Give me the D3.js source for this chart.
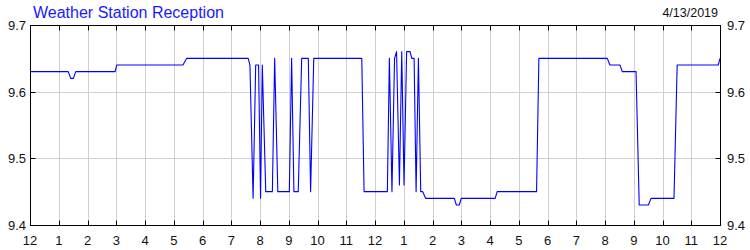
<!DOCTYPE html>
<html>
<head>
<meta charset="utf-8">
<script src="https://cdn.jsdelivr.net/npm/d3@7"></script>
<style>
  body { margin: 0; background: #fff; }
  svg { display: block; font-family: "Liberation Sans", Arial, sans-serif; }
</style>
</head>
<body>
<svg id="chart" width="750" height="250"></svg>
<script>
// chart data
const chartTitle = "Weather Station Reception";
const dateLabel = "4/13/2019";

// hours since midnight
const hours = [
  0, 1.33, 1.415, 1.51, 1.59, 2.96, 3.02, 5.32, 5.45, 7.59,
  7.65, 7.76, 7.85, 7.95, 8.02, 8.08, 8.20, 8.43, 8.51, 8.62,
  9.02, 9.10, 9.18, 9.33, 9.45, 9.68, 9.76, 9.87, 11.54, 11.62,
  12.43, 12.50, 12.59, 12.68, 12.75, 12.85, 12.93, 13.01, 13.10, 13.22,
  13.28, 13.36, 13.43, 13.51, 13.59, 13.66, 13.76, 14.76, 14.83, 14.93,
  15.00, 16.18, 16.25, 17.62, 17.70, 20.08, 20.17, 20.52, 20.60, 21.08,
  21.19, 21.51, 21.60, 22.40, 22.51, 23.94, 24
];
const reception = [
  9.63, 9.63, 9.62, 9.62, 9.63, 9.63, 9.64, 9.64, 9.65, 9.65,
  9.64, 9.44, 9.64, 9.64, 9.44, 9.64, 9.45, 9.45, 9.65, 9.45,
  9.45, 9.65, 9.45, 9.45, 9.65, 9.65, 9.45, 9.65, 9.65, 9.45,
  9.45, 9.65, 9.45, 9.65, 9.66, 9.46, 9.66, 9.46, 9.66, 9.66,
  9.65, 9.65, 9.45, 9.65, 9.45, 9.45, 9.44, 9.44, 9.43, 9.43,
  9.44, 9.44, 9.45, 9.45, 9.65, 9.65, 9.64, 9.64, 9.63, 9.63,
  9.43, 9.43, 9.44, 9.44, 9.64, 9.64, 9.65
];

const xTicks = d3.range(0, 25);
const xTickLabels = ["12", "1", "2", "3", "4", "5", "6", "7", "8", "9", "10", "11",
                     "12", "1", "2", "3", "4", "5", "6", "7", "8", "9", "10", "11", "12"];
const yTicks = [9.4, 9.5, 9.6, 9.7];
const yTickLabels = ["9.4", "9.5", "9.6", "9.7"];

const svg = d3.select("#chart");
const margin = { top: 25, right: 30, bottom: 25, left: 30 };
const width = 750, height = 250;

const x = d3.scaleLinear().domain([0, 24]).range([margin.left, width - margin.right]);
const y = d3.scaleLinear().domain([9.4, 9.7]).range([height - margin.bottom, margin.top]);
const px = v => Math.round(v) + 0.5;

// grid
svg.append("g")
  .selectAll("line")
  .data(xTicks.slice(1, -1))
  .enter().append("line")
  .attr("x1", d => px(x(d))).attr("x2", d => px(x(d)))
  .attr("y1", y(9.7)).attr("y2", y(9.4))
  .attr("stroke", "#cfcfcf");

svg.append("g")
  .selectAll("line")
  .data(yTicks.slice(1, -1))
  .enter().append("line")
  .attr("x1", x(0)).attr("x2", x(24))
  .attr("y1", d => px(y(d))).attr("y2", d => px(y(d)))
  .attr("stroke", "#cfcfcf");

// inward tick marks on all four sides
const tickLen = 5;
const tg = svg.append("g").attr("stroke", "#000");
xTicks.forEach(d => {
  tg.append("line").attr("x1", px(x(d))).attr("x2", px(x(d)))
    .attr("y1", px(y(9.4))).attr("y2", px(y(9.4)) - tickLen);
  tg.append("line").attr("x1", px(x(d))).attr("x2", px(x(d)))
    .attr("y1", px(y(9.7))).attr("y2", px(y(9.7)) + tickLen);
});
yTicks.forEach(d => {
  tg.append("line").attr("x1", px(x(0))).attr("x2", px(x(0)) + tickLen)
    .attr("y1", px(y(d))).attr("y2", px(y(d)));
  tg.append("line").attr("x1", px(x(24))).attr("x2", px(x(24)) - tickLen)
    .attr("y1", px(y(d))).attr("y2", px(y(d)));
});

// line
const points = hours.map((h, i) => [h, reception[i]]);
const line = d3.line().x(d => x(d[0])).y(d => y(d[1]));
svg.append("path")
  .datum(points)
  .attr("d", line)
  .attr("fill", "none")
  .attr("stroke", "#0000ff")
  .attr("stroke-width", 1.1)
  .attr("stroke-linejoin", "round");

// frame
svg.append("rect")
  .attr("x", px(x(0))).attr("y", px(y(9.7)))
  .attr("width", Math.round(x(24)) - Math.round(x(0)))
  .attr("height", Math.round(y(9.4)) - Math.round(y(9.7)))
  .attr("fill", "none")
  .attr("stroke", "#000");

// x labels
svg.append("g")
  .selectAll("text")
  .data(xTicks)
  .enter().append("text")
  .attr("x", d => x(d))
  .attr("y", 245)
  .attr("text-anchor", "middle")
  .attr("font-size", 13)
  .attr("fill", "#111")
  .text((d, i) => xTickLabels[i]);

// y labels, left and right
svg.append("g")
  .selectAll("text")
  .data(yTicks)
  .enter().append("text")
  .attr("x", 26)
  .attr("y", d => y(d) + 5)
  .attr("text-anchor", "end")
  .attr("font-size", 13)
  .attr("fill", "#111")
  .text((d, i) => yTickLabels[i]);

svg.append("g")
  .selectAll("text")
  .data(yTicks)
  .enter().append("text")
  .attr("x", 727)
  .attr("y", d => y(d) + 5)
  .attr("font-size", 13)
  .attr("fill", "#111")
  .text((d, i) => yTickLabels[i]);

// title and date
svg.append("text")
  .attr("x", 33).attr("y", 18)
  .attr("font-size", 16)
  .attr("fill", "#1a1aff")
  .text(chartTitle);

svg.append("text")
  .attr("x", 718).attr("y", 17)
  .attr("text-anchor", "end")
  .attr("font-size", 12.5)
  .attr("fill", "#111")
  .text(dateLabel);
</script>
</body>
</html>
